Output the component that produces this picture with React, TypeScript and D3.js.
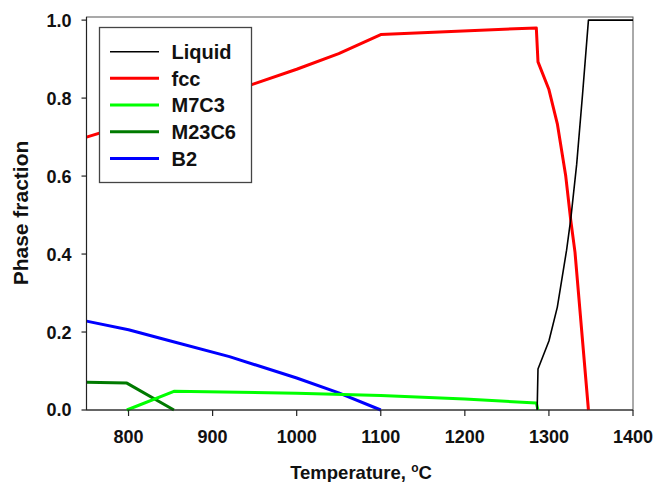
import React from 'react';
import * as d3 from 'd3';

// Phase fractions vs temperature (°C)
const liquidT = [1286, 1287, 1300, 1310, 1321, 1326, 1333, 1340, 1347, 1400];
const liquidV = [0, 0.105, 0.177, 0.264, 0.41, 0.49, 0.63, 0.81, 1.0, 1.0];

const fccT = [750, 800, 850, 900, 950, 1000, 1050, 1100, 1285, 1287, 1300, 1310, 1320, 1326, 1331, 1347];
const fccV = [0.7, 0.733, 0.767, 0.801, 0.837, 0.874, 0.914, 0.963, 0.98, 0.893, 0.822, 0.734, 0.6, 0.486, 0.405, 0];

const m7c3T = [798, 854, 1000, 1100, 1200, 1285, 1287];
const m7c3V = [0, 0.048, 0.043, 0.037, 0.028, 0.018, 0];

const m23c6T = [750, 798, 854];
const m23c6V = [0.071, 0.069, 0];

const b2T = [750, 800, 850, 920, 1000, 1050, 1100];
const b2V = [0.228, 0.206, 0.177, 0.137, 0.082, 0.044, 0];

const xTicks = [800, 900, 1000, 1100, 1200, 1300, 1400];
const yTicks = [0, 0.2, 0.4, 0.6, 0.8, 1.0];

const series = [
  { name: 'Liquid', t: liquidT, v: liquidV, color: '#000000', w: 1.6 },
  { name: 'fcc', t: fccT, v: fccV, color: '#ff0000', w: 3 },
  { name: 'M7C3', t: m7c3T, v: m7c3V, color: '#00ff00', w: 3 },
  { name: 'M23C6', t: m23c6T, v: m23c6V, color: '#007a00', w: 3 },
  { name: 'B2', t: b2T, v: b2V, color: '#0000ff', w: 3 },
];

const font = '"Liberation Sans", Arial, sans-serif';

export default function App() {
  const width = 656;
  const height = 482;
  const left = 86.5, right = 633, top = 17, bottom = 410;

  const x = d3.scaleLinear().domain([750, 1400]).range([left, right]);
  const y = d3.scaleLinear().domain([0, 1.008]).range([bottom, top]);

  const line = d3.line<[number, number]>()
    .x(d => x(d[0]))
    .y(d => y(d[1]));

  // draw order: back to front
  const order = ['B2', 'M23C6', 'M7C3', 'fcc', 'Liquid'];
  const drawn = order.map(n => series.find(s => s.name === n)!);

  return (
    <svg width={width} height={height} style={{ position: 'absolute', left: 0, top: 0, background: '#fff' }}>
      <defs>
        <clipPath id="plot">
          <rect x={left} y={top - 2} width={right - left} height={bottom - top + 4} />
        </clipPath>
      </defs>

      {/* frame */}
      <rect x={left} y={top} width={right - left} height={bottom - top} fill="none" stroke="#555" strokeWidth={1} />

      <g clipPath="url(#plot)">
        {drawn.map(s => (
          <path key={s.name}
            d={line(s.t.map((t, i) => [t, s.v[i]] as [number, number])) || ''}
            fill="none" stroke={s.color} strokeWidth={s.w} strokeLinejoin="round" />
        ))}
      </g>

      {/* axes */}
      <line x1={left} x2={right} y1={bottom} y2={bottom} stroke="#222" strokeWidth={1.2} />
      <line x1={left} x2={left} y1={top} y2={bottom} stroke="#222" strokeWidth={1.2} />

      {xTicks.map(t => (
        <g key={t} transform={`translate(${x(t)},${bottom})`}>
          <line y2={6} stroke="#222" strokeWidth={1.2} />
          <text y={33} textAnchor="middle" fontFamily={font} fontWeight="bold" fontSize={18} fill="#111">{t}</text>
        </g>
      ))}
      {yTicks.map(t => (
        <g key={t} transform={`translate(${left},${y(t)})`}>
          <line x2={-5} stroke="#222" strokeWidth={1.2} />
          <text x={-15} dy="0.36em" textAnchor="end" fontFamily={font} fontWeight="bold" fontSize={18} fill="#111">{t.toFixed(1)}</text>
        </g>
      ))}

      {/* axis titles */}
      <text x={361} y={479} textAnchor="middle" fontFamily={font} fontWeight="bold" fontSize={18.5} fill="#111">
        Temperature, <tspan fontSize={12} dy={-7}>o</tspan><tspan dy={7}>C</tspan>
      </text>
      <text transform="translate(28,213) rotate(-90)" textAnchor="middle" fontFamily={font} fontWeight="bold" fontSize={21} fill="#111">
        Phase fraction
      </text>

      {/* legend */}
      <rect x={99.5} y={27.5} width={152} height={155} fill="#fff" stroke="#444" strokeWidth={1.3} />
      {series.map((s, i) => {
        const ly = 51.7 + i * 26.67;
        return (
          <g key={s.name}>
            <line x1={110} x2={159} y1={ly} y2={ly} stroke={s.color} strokeWidth={s.name === 'Liquid' ? 1.6 : 3} />
            <text x={171.5} y={ly} dy="0.36em" fontFamily={font} fontWeight="bold" fontSize={20} fill="#111">{s.name}</text>
          </g>
        );
      })}
    </svg>
  );
}
